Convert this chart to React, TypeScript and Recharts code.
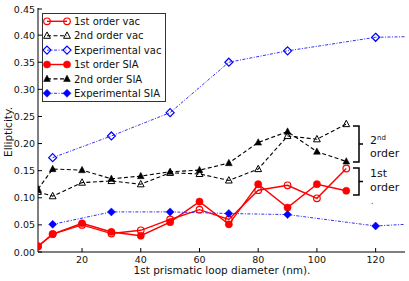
import React from 'react';
import { ComposedChart, Line, XAxis, YAxis } from 'recharts';

// loop diameters (nm)
const simX = [5, 10, 20, 30, 40, 50, 60, 70, 80, 90, 100, 110];
const firstVac = [0.010, 0.033, 0.050, 0.034, 0.040, 0.060, 0.078, 0.060, 0.114, 0.123, 0.099, 0.154];
const secondVac = [0.111, 0.103, 0.128, 0.131, 0.125, 0.146, 0.144, 0.132, 0.153, 0.214, 0.208, 0.236];
const firstSia = [0.011, 0.033, 0.053, 0.037, 0.030, 0.055, 0.093, 0.051, 0.125, 0.082, 0.125, 0.113];
const secondSia = [0.116, 0.153, 0.151, 0.135, 0.140, 0.148, 0.151, 0.164, 0.202, 0.222, 0.185, 0.167];

const expX = [10, 30, 50, 70, 90, 120, 140];
const expVac = [0.174, 0.214, 0.257, 0.350, 0.371, 0.396, 0.398];
const expSia = [0.051, 0.074, 0.074, 0.071, 0.069, 0.048, 0.054];

const xTicks = [20, 40, 60, 80, 100, 120];
const yTicks = [0, 0.05, 0.1, 0.15, 0.2, 0.25, 0.3, 0.35, 0.4, 0.45];

const FONT = '"DejaVu Sans", sans-serif';
const RED = '#ff0000';
const BLUE = '#0000ff';

const toRows = (xs: number[], ys: number[]) => xs.map((x, i) => ({ x, y: ys[i] }));

type Kind = 'oc' | 'fc' | 'ot' | 'ft' | 'od' | 'fd';

function marker(kind: Kind, cx: number, cy: number, key?: string | number) {
  if (cx == null || cy == null) return <g key={key} />;
  switch (kind) {
    case 'oc':
      return <circle key={key} cx={cx} cy={cy} r={3.3} fill="none" stroke={RED} strokeWidth={1.2} />;
    case 'fc':
      return <circle key={key} cx={cx} cy={cy} r={3.6} fill={RED} stroke={RED} strokeWidth={0.5} />;
    case 'ot':
    case 'ft': {
      const pts = `${cx},${cy - 3.8} ${cx - 3.4},${cy + 2.6} ${cx + 3.4},${cy + 2.6}`;
      return kind === 'ot'
        ? <polygon key={key} points={pts} fill="none" stroke="#000" strokeWidth={1} />
        : <polygon key={key} points={pts} fill="#000" stroke="#000" strokeWidth={0.5} />;
    }
    default: {
      const pts = `${cx},${cy - 4} ${cx + 4},${cy} ${cx},${cy + 4} ${cx - 4},${cy}`;
      return kind === 'od'
        ? <polygon key={key} points={pts} fill="none" stroke={BLUE} strokeWidth={1.2} />
        : <polygon key={key} points={pts} fill={BLUE} stroke={BLUE} strokeWidth={0.5} />;
    }
  }
}

const dotFor = (kind: Kind) => (p: any) => marker(kind, p.cx, p.cy, p.index);

const DASH = '4 2.5';
const DASHDOT = '3 1.5 1 1.5';

const series: { name: string; kind: Kind; data: { x: number; y: number }[]; stroke: string; dash?: string; width: number }[] = [
  { name: '1st order vac', kind: 'oc', data: toRows(simX, firstVac), stroke: RED, width: 1.4 },
  { name: '2nd order vac', kind: 'ot', data: toRows(simX, secondVac), stroke: '#000', dash: DASH, width: 1.1 },
  { name: 'Experimental vac', kind: 'od', data: toRows(expX, expVac), stroke: '#3030ff', dash: DASHDOT, width: 1 },
  { name: '1st order SIA', kind: 'fc', data: toRows(simX, firstSia), stroke: RED, width: 1.4 },
  { name: '2nd order SIA', kind: 'ft', data: toRows(simX, secondSia), stroke: '#000', dash: DASH, width: 1.1 },
  { name: 'Experimental SIA', kind: 'fd', data: toRows(expX, expSia), stroke: '#3030ff', dash: DASHDOT, width: 1 },
];

const BottomTick = ({ x, y, payload }: any) => (
  <g>
    <line x1={x} x2={x} y1={y} y2={y - 4} stroke="#000" />
    <text x={x} y={y + 10.5} textAnchor="middle" fontSize={9.5} fontFamily={FONT} fill="#111">{payload.value}</text>
  </g>
);
const TopTick = ({ x, y }: any) => <line x1={x} x2={x} y1={y} y2={y + 4} stroke="#000" />;
const LeftTick = ({ x, y, payload }: any) => (
  <g>
    <line x1={x} x2={x + 4} y1={y} y2={y} stroke="#000" />
    <text x={x - 3} y={y + 3.5} textAnchor="end" fontSize={9.5} fontFamily={FONT} fill="#111">{Number(payload.value).toFixed(2)}</text>
  </g>
);
const RightTick = ({ x, y }: any) => <line x1={x} x2={x - 4} y1={y} y2={y} stroke="#000" />;

function Brace({ top, bottom, x }: { top: number; bottom: number; x: number }) {
  const mid = (top + bottom) / 2;
  const d = `M${x - 6},${top} L${x},${top} L${x},${mid} L${x + 4},${mid} M${x},${mid} L${x},${bottom} L${x - 6},${bottom}`;
  return <path d={d} fill="none" stroke="#000" strokeWidth={1.5} />;
}

export default function App() {
  return (
    <div style={{ position: 'absolute', left: 0, top: 0, width: 409, height: 281, background: '#fff' }}>
      <ComposedChart width={409} height={281} margin={{ top: 8, right: 4, bottom: 0, left: 0 }}>
        <XAxis xAxisId="b" type="number" dataKey="x" domain={[5, 130]} allowDataOverflow ticks={xTicks}
          height={29} tickSize={0} tickMargin={0} tickLine={false} tick={BottomTick} stroke="#000" />
        <XAxis xAxisId="t" orientation="top" type="number" domain={[5, 130]} allowDataOverflow ticks={xTicks}
          height={0} tickSize={0} tickMargin={0} tickLine={false} tick={TopTick} stroke="#000" />
        <YAxis yAxisId="l" type="number" domain={[0, 0.45]} allowDataOverflow ticks={yTicks}
          width={38} tickSize={0} tickMargin={0} tickLine={false} tick={LeftTick} stroke="#000" />
        <YAxis yAxisId="r" orientation="right" type="number" domain={[0, 0.45]} allowDataOverflow ticks={yTicks}
          width={0} tickSize={0} tickMargin={0} tickLine={false} tick={RightTick} stroke="#000" />
        {series.map((s) => (
          <Line key={s.name} xAxisId="b" yAxisId="l" data={s.data} dataKey="y" name={s.name} type="linear"
            stroke={s.stroke} strokeWidth={s.width} strokeDasharray={s.dash} dot={dotFor(s.kind)}
            activeDot={false} isAnimationActive={false} />
        ))}
      </ComposedChart>
      <svg width={409} height={281} style={{ position: 'absolute', left: 0, top: 0, pointerEvents: 'none' }}
        fontFamily={FONT}>
        {/* legend */}
        <rect x={42.5} y={13.5} width={123} height={88} fill="#fff" stroke="#333" strokeWidth={1} />
        {series.map((s, i) => {
          const cy = 21.3 + i * 14.4;
          return (
            <g key={s.name}>
              <line x1={47} x2={67} y1={cy} y2={cy} stroke={s.stroke} strokeWidth={s.width} strokeDasharray={s.dash} />
              {marker(s.kind, 47, cy)}
              {marker(s.kind, 67, cy)}
              <text x={74} y={cy + 3.6} fontSize={10} fill="#111">{s.name}</text>
            </g>
          );
        })}
        {/* axis titles */}
        <text x={222} y={274} textAnchor="middle" fontSize={10.5} fill="#111">1st prismatic loop diameter (nm).</text>
        <text transform="translate(12,132) rotate(-90)" textAnchor="middle" fontSize={10.5} fill="#111">Ellipticity.</text>
        {/* annotations */}
        <Brace top={126} bottom={162} x={359} />
        <Brace top={168} bottom={195} x={359} />
        <text x={370} y={144} fontSize={11} fill="#111">2<tspan fontSize={7} dy={-4}>nd</tspan></text>
        <text x={370} y={157} fontSize={11} fill="#111">order</text>
        <text x={370} y={177} fontSize={11} fill="#111">1st</text>
        <text x={370} y={191} fontSize={11} fill="#111">order</text>
        <text x={371} y={204} fontSize={8} fill="#444">.</text>
      </svg>
    </div>
  );
}
